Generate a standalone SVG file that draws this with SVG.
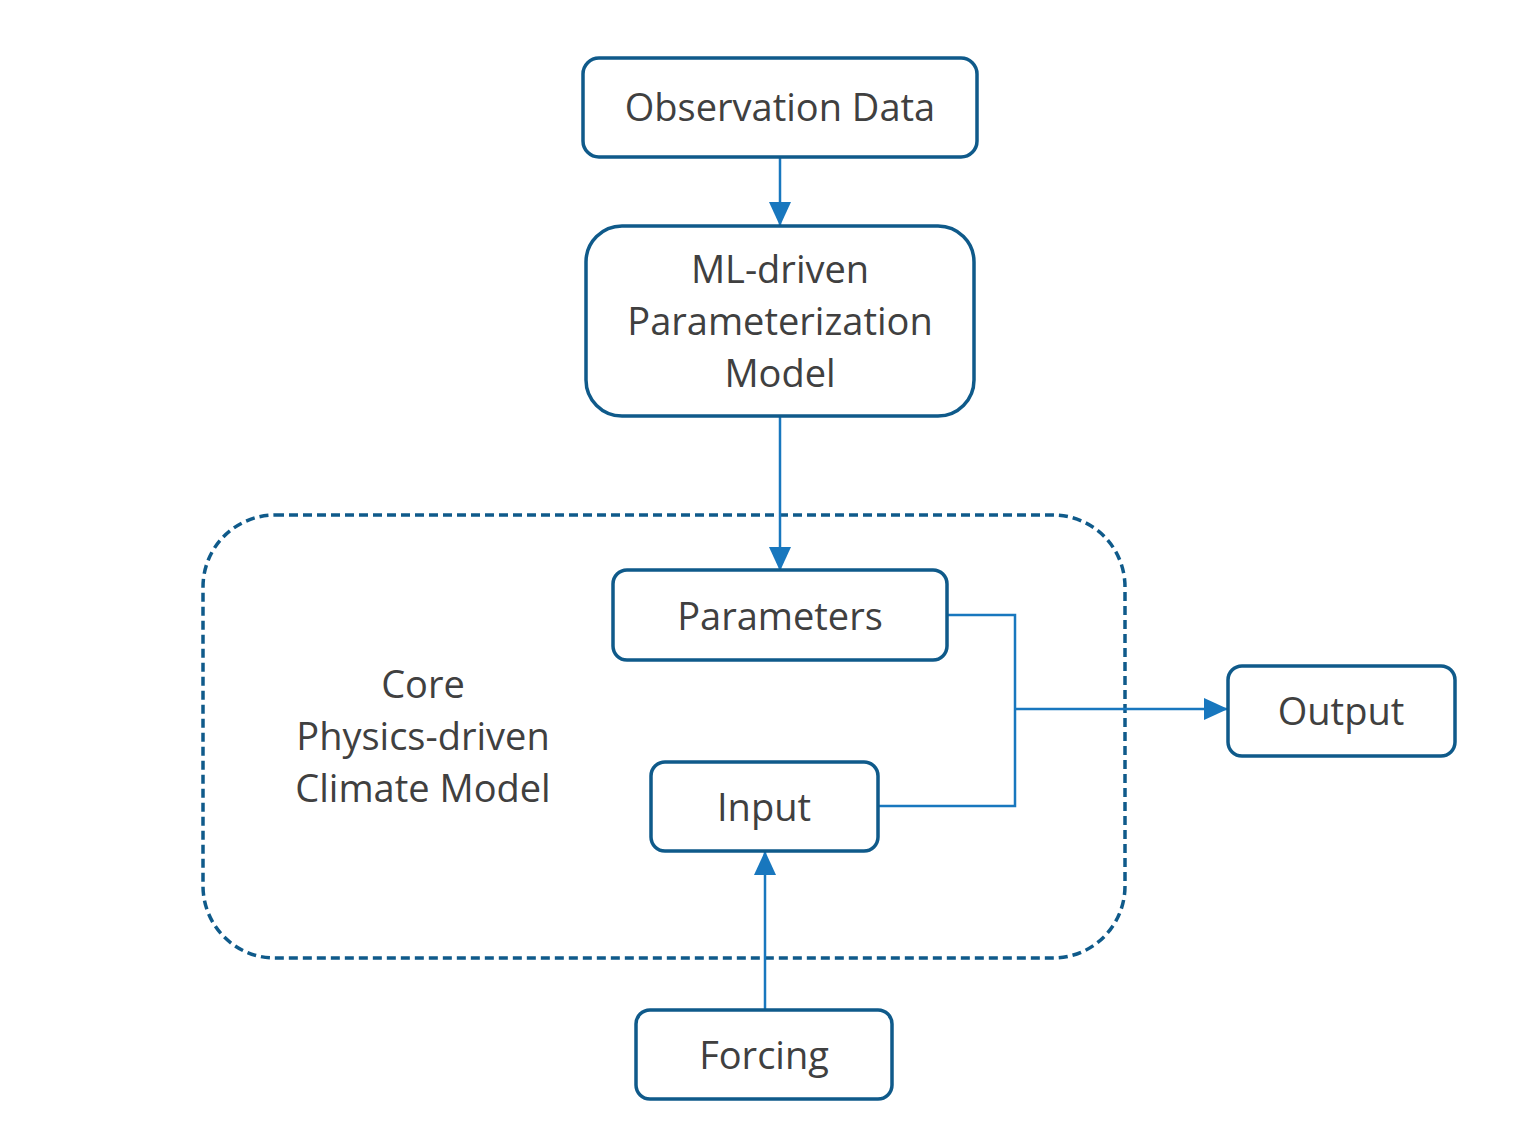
<svg xmlns="http://www.w3.org/2000/svg" width="1534" height="1124" viewBox="0 0 1534 1124">
<style>
.box{fill:#fff;stroke:#0F5A8A;stroke-width:3.5}
.lbl{font-family:"Open Sans","Liberation Sans",sans-serif;font-size:38px;fill:#404040;text-anchor:middle;dominant-baseline:central}
.con{fill:none;stroke:#1877BE;stroke-width:2.5}
</style>
<defs>
<marker id="ahb" viewBox="0 0 24 24" markerWidth="24" markerHeight="24" refX="23" refY="12" orient="auto" markerUnits="userSpaceOnUse">
<path d="M0,1 L24,12 L0,23 Z" fill="#1877BE"/>
</marker>
</defs>
<rect width="1534" height="1124" fill="#fff"/>
<g id="core">
<rect x="203" y="515" width="922" height="443" rx="72" fill="none" stroke="#0F5A8A" stroke-width="3.5" stroke-dasharray="9,5"/>
<text class="lbl" x="423" y="683">Core</text>
<text class="lbl" x="423" y="735">Physics-driven</text>
<text class="lbl" x="423" y="787">Climate Model</text>
</g>
<g id="connectors">
<line class="con" x1="780" y1="157" x2="780" y2="225" marker-end="url(#ahb)"/>
<line class="con" x1="780" y1="416" x2="780" y2="570" marker-end="url(#ahb)"/>
<polyline class="con" points="947,615 1015,615 1015,806 878,806"/>
<line class="con" x1="1015" y1="709" x2="1227" y2="709" marker-end="url(#ahb)"/>
<line class="con" x1="765" y1="1010" x2="765" y2="852" marker-end="url(#ahb)"/>
</g>
<g id="observation">
<rect class="box" x="583" y="58" width="394" height="99" rx="16"/>
<text class="lbl" x="780" y="106">Observation Data</text>
</g>
<g id="ml">
<rect class="box" x="586" y="226" width="388" height="190" rx="36"/>
<text class="lbl" x="780" y="268">ML-driven</text>
<text class="lbl" x="780" y="320">Parameterization</text>
<text class="lbl" x="780" y="372">Model</text>
</g>
<g id="parameters">
<rect class="box" x="613" y="570" width="334" height="90" rx="14"/>
<text class="lbl" x="780" y="615">Parameters</text>
</g>
<g id="input">
<rect class="box" x="651" y="762" width="227" height="89" rx="14"/>
<text class="lbl" x="764" y="806">Input</text>
</g>
<g id="output">
<rect class="box" x="1228" y="666" width="227" height="90" rx="14"/>
<text class="lbl" x="1341" y="710">Output</text>
</g>
<g id="forcing">
<rect class="box" x="636" y="1010" width="256" height="89" rx="14"/>
<text class="lbl" x="764" y="1054">Forcing</text>
</g>
</svg>
